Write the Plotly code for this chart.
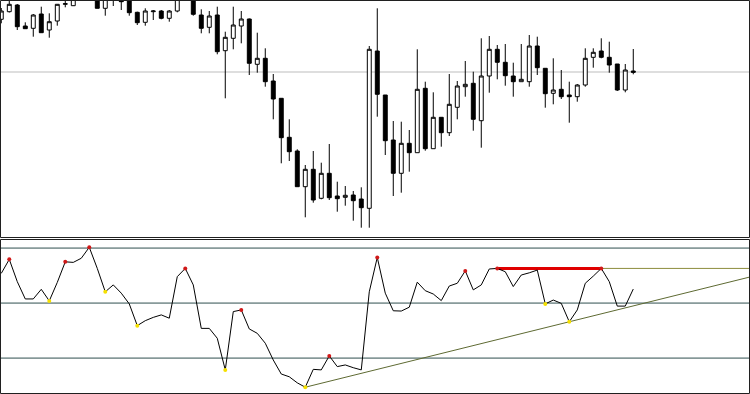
import plotly.graph_objects as go

# ---------------- data ----------------
idx = list(range(80))

open_ = [1.32307, 1.32383, 1.32450, 1.32240, 1.32217, 1.32360, 1.32200, 1.32290, 1.32457, 1.32443,
         1.32580, 1.32620, 1.32540, 1.32417, 1.32560, 1.32495, 1.32520, 1.32377, 1.32277, 1.32383,
         1.32390, 1.32317, 1.32390, 1.32540, 1.32520, 1.32350, 1.32227, 1.32350, 1.31993, 1.32117,
         1.32240, 1.32310, 1.31857, 1.31917, 1.31690, 1.31517, 1.31127, 1.30990, 1.30633, 1.30807,
         1.30517, 1.30767, 1.30540, 1.30527, 1.30550, 1.30510, 1.30417, 1.31990, 1.31550, 1.31100,
         1.30767, 1.31067, 1.30973, 1.31617, 1.31013, 1.31327, 1.31173, 1.31427, 1.31633, 1.31667,
         1.31293, 1.31740, 1.32007, 1.31877, 1.31740, 1.31683, 1.31683, 1.32040, 1.31817, 1.31567,
         1.31607, 1.31550, 1.31533, 1.31650, 1.31927, 1.31990, 1.31927, 1.31860, 1.31600, 1.31790]

high = [1.32420, 1.32520, 1.32460, 1.32277, 1.32360, 1.32433, 1.32367, 1.32460, 1.32510, 1.32560,
        1.32650, 1.32660, 1.32560, 1.32560, 1.32580, 1.32520, 1.32540, 1.32383, 1.32417, 1.32400,
        1.32400, 1.32400, 1.32540, 1.32620, 1.32550, 1.32407, 1.32390, 1.32433, 1.32183, 1.32433,
        1.32390, 1.32315, 1.32173, 1.32017, 1.31760, 1.31517, 1.31307, 1.31007, 1.30850, 1.30990,
        1.30873, 1.31060, 1.30683, 1.30640, 1.30590, 1.30627, 1.32040, 1.32417, 1.31550, 1.31290,
        1.31283, 1.31200, 1.32007, 1.31683, 1.31577, 1.31327, 1.31760, 1.31690, 1.31890, 1.31783,
        1.32117, 1.32140, 1.32050, 1.32060, 1.31873, 1.32060, 1.32150, 1.32133, 1.31817, 1.31917,
        1.31800, 1.31683, 1.31660, 1.32017, 1.32017, 1.32117, 1.32083, 1.31860, 1.31860, 1.32010]

low = [1.32267, 1.32375, 1.32200, 1.32213, 1.32133, 1.32173, 1.32123, 1.32243, 1.32427, 1.32440,
       1.32550, 1.32530, 1.32417, 1.32343, 1.32440, 1.32400, 1.32343, 1.32250, 1.32243, 1.32300,
       1.32307, 1.32283, 1.32377, 1.32520, 1.32343, 1.32167, 1.32167, 1.31957, 1.31517, 1.32007,
       1.32067, 1.31750, 1.31773, 1.31633, 1.31307, 1.30867, 1.30890, 1.30633, 1.30327, 1.30473,
       1.30507, 1.30500, 1.30383, 1.30443, 1.30293, 1.30223, 1.30223, 1.31333, 1.30950, 1.30540,
       1.30573, 1.30783, 1.30973, 1.30993, 1.31013, 1.31033, 1.31140, 1.31307, 1.31533, 1.31193,
       1.31023, 1.31573, 1.31707, 1.31643, 1.31533, 1.31683, 1.31633, 1.31750, 1.31423, 1.31457,
       1.31510, 1.31273, 1.31483, 1.31633, 1.31823, 1.31917, 1.31773, 1.31590, 1.31577, 1.31757]

close = [1.32390, 1.32457, 1.32233, 1.32213, 1.32350, 1.32173, 1.32283, 1.32457, 1.32463, 1.32530,
         1.32620, 1.32560, 1.32417, 1.32530, 1.32530, 1.32483, 1.32373, 1.32273, 1.32390, 1.32390,
         1.32317, 1.32390, 1.32520, 1.32580, 1.32357, 1.32217, 1.32340, 1.31983, 1.32127, 1.32250,
         1.32310, 1.31867, 1.31917, 1.31683, 1.31510, 1.31123, 1.30983, 1.30633, 1.30807, 1.30500,
         1.30767, 1.30523, 1.30513, 1.30547, 1.30493, 1.30423, 1.32007, 1.31557, 1.31093, 1.30767,
         1.31067, 1.30973, 1.31607, 1.31013, 1.31327, 1.31173, 1.31457, 1.31640, 1.31657, 1.31307,
         1.31740, 1.32007, 1.31877, 1.31743, 1.31683, 1.31707, 1.32040, 1.31823, 1.31563, 1.31600,
         1.31533, 1.31533, 1.31650, 1.31917, 1.31977, 1.31927, 1.31850, 1.31600, 1.31800, 1.31777]

price_level = 1.3178

osc = [60.8, 65.9, 57.8, 51.5, 51.5, 55.0, 50.8, 57.5, 65.0, 64.8,
       66.3, 70.3, 62.6, 54.1, 56.6, 53.6, 49.7, 41.8, 43.6, 44.8,
       45.7, 44.5, 59.6, 62.6, 56.6, 40.8, 40.8, 37.2, 25.7, 46.9,
       47.5, 40.6, 39.0, 35.4, 29.3, 24.2, 23.2, 21.0, 19.4, 25.9,
       25.7, 30.8, 26.9, 27.5, 26.5, 25.7, 54.1, 66.6, 53.6, 47.2,
       47.1, 48.5, 57.6, 54.5, 53.3, 50.9, 56.2, 57.2, 61.7, 54.8,
       56.6, 62.4, 62.6, 61.4, 56.0, 60.2, 61.0, 62.0, 49.7, 51.1,
       49.9, 43.2, 47.5, 57.2, 59.8, 62.6, 57.8, 48.9, 48.9, 55.1]

osc_levels = [70, 50, 30]
peak_idx = [1, 8, 11, 23, 30, 41, 47, 58, 62, 75]
trough_idx = [6, 13, 17, 28, 38, 68, 71]
trend_idx = [38, 71]
resist_idx = [62, 75]

# ---------------- layout constants ----------------
W, H = 750, 394
X_MIN, X_MAX = -0.16, 93.59
TOP_RANGE = [1.3013, 1.3250]
BOT_RANGE = [17.3, 73.3]
top_dom = [1 - 237 / H, 1.0]
bot_dom = [1 - 393 / H, 1 - 239 / H]

fig = go.Figure()

fig.add_trace(go.Candlestick(
    x=idx, open=open_, high=high, low=low, close=close,
    increasing=dict(line=dict(color="black", width=1), fillcolor="white"),
    decreasing=dict(line=dict(color="black", width=1), fillcolor="black"),
    whiskerwidth=0, xaxis="x", yaxis="y", showlegend=False, hoverinfo="skip",
))

# trend line through two troughs, extended to the right edge
i0, i1 = trend_idx
slope = (osc[i1] - osc[i0]) / (i1 - i0)
fig.add_trace(go.Scatter(
    x=[i0, X_MAX], y=[osc[i0], osc[i0] + slope * (X_MAX - i0)],
    mode="lines", line=dict(color="#5E6A32", width=1),
    xaxis="x2", yaxis="y2", showlegend=False, hoverinfo="skip"))

# horizontal resistance (olive) and its red part
r0, r1 = resist_idx
fig.add_trace(go.Scatter(
    x=[r0, X_MAX], y=[osc[r0], osc[r0]], mode="lines",
    line=dict(color="#8C8C3C", width=1),
    xaxis="x2", yaxis="y2", showlegend=False, hoverinfo="skip"))
fig.add_trace(go.Scatter(
    x=[r0, r1], y=[osc[r0], osc[r0]], mode="lines",
    line=dict(color="#E00000", width=3),
    xaxis="x2", yaxis="y2", showlegend=False, hoverinfo="skip"))

fig.add_trace(go.Scatter(
    x=idx, y=osc, mode="lines", line=dict(color="black", width=1),
    xaxis="x2", yaxis="y2", showlegend=False, hoverinfo="skip"))

fig.add_trace(go.Scatter(
    x=peak_idx, y=[osc[i] for i in peak_idx], mode="markers",
    marker=dict(color="#D01818", size=4, line=dict(width=0)),
    xaxis="x2", yaxis="y2", showlegend=False, hoverinfo="skip"))
fig.add_trace(go.Scatter(
    x=trough_idx, y=[osc[i] for i in trough_idx], mode="markers",
    marker=dict(color="#F5E000", size=4, line=dict(width=0)),
    xaxis="x2", yaxis="y2", showlegend=False, hoverinfo="skip"))

shapes = []
shapes.append(dict(type="line", xref="x domain", yref="y", x0=0, x1=1,
                   y0=price_level, y1=price_level, layer="below",
                   line=dict(color="#BDBDBD", width=1)))
for lv in osc_levels:
    shapes.append(dict(type="line", xref="x2 domain", yref="y2", x0=0, x1=1,
                       y0=lv, y1=lv, layer="below",
                       line=dict(color="#2F4F4F", width=1)))
# panel borders
shapes.append(dict(type="rect", xref="paper", yref="paper",
                   x0=0.5 / W, x1=749.5 / W, y0=1 - 237.5 / H, y1=1 - 0.5 / H,
                   line=dict(color="#202020", width=1)))
shapes.append(dict(type="rect", xref="paper", yref="paper",
                   x0=0.5 / W, x1=749.5 / W, y0=1 - 393.5 / H, y1=1 - 239.5 / H,
                   line=dict(color="#202020", width=1)))

axis_common = dict(showgrid=False, zeroline=False, showticklabels=False,
                   ticks="", showline=False)
fig.update_layout(
    width=W, height=H,
    margin=dict(l=0, r=0, t=0, b=0),
    paper_bgcolor="white", plot_bgcolor="white",
    showlegend=False,
    xaxis=dict(domain=[0, 1], range=[X_MIN, X_MAX], anchor="y",
               rangeslider=dict(visible=False), **axis_common),
    yaxis=dict(domain=top_dom, range=TOP_RANGE, anchor="x", **axis_common),
    xaxis2=dict(domain=[0, 1], range=[X_MIN, X_MAX], anchor="y2",
                matches="x", **axis_common),
    yaxis2=dict(domain=bot_dom, range=BOT_RANGE, anchor="x2", **axis_common),
    shapes=shapes,
)

fig.write_html("out.html")
